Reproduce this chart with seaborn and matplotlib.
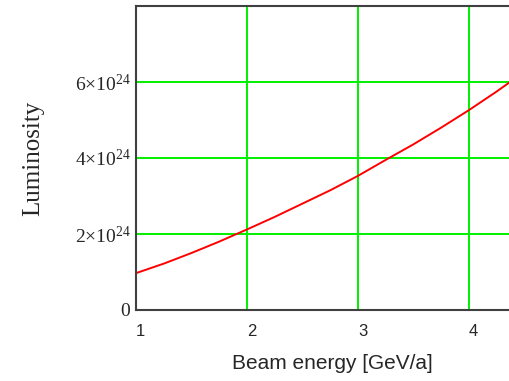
import matplotlib
matplotlib.use("Agg")
import matplotlib.pyplot as plt
import seaborn as sns
import pandas as pd

energy = [1.0, 1.25, 1.5, 1.75, 2.0, 2.25, 2.5, 2.75, 3.0, 3.25, 3.5, 3.75, 4.0, 4.25, 4.37]
lum_e24 = [0.97, 1.22, 1.50, 1.80, 2.12, 2.45, 2.80, 3.15, 3.53, 3.95, 4.36, 4.80, 5.26, 5.75, 6.0]
x_ticks = [1, 2, 3, 4]
y_ticks_e24 = [0, 2, 4, 6]

sns.set_style("white")
plt.rcParams['mathtext.fontset'] = 'custom'
plt.rcParams['mathtext.rm'] = 'Liberation Serif'
plt.rcParams['mathtext.it'] = 'Liberation Serif'

df = pd.DataFrame({"energy": energy, "lum": [v * 1e24 for v in lum_e24]})

fig = plt.figure(figsize=(5.10, 3.81), dpi=100)
ax = fig.add_axes([136/510, 71/381, 1 - 136/510, 304/381])
sns.lineplot(data=df, x="energy", y="lum", ax=ax, color="#ff0000", linewidth=1.4)

ax.set_xlim(1, 4.37)
ax.set_ylim(0, 8e24)
ax.set_xticks(x_ticks)
ax.set_yticks([v * 1e24 for v in y_ticks_e24])
ax.set_xticklabels([str(t) for t in x_ticks], family="Liberation Sans", fontsize=12)
ylabels = ["0"] + [r"%d$\times$10$^{24}$" % v for v in y_ticks_e24[1:]]
ax.set_yticklabels(ylabels, family="Liberation Serif", fontsize=14)
ax.tick_params(axis="x", length=0, pad=10)
ax.tick_params(axis="y", length=0, pad=4)
for lbl in ax.get_xticklabels():
    lbl.set_horizontalalignment("left")

ax.grid(True, color="#00f000", linewidth=1.4)
ax.set_axisbelow(True)
for side in ["left", "bottom", "top"]:
    ax.spines[side].set_color("#404040")
    ax.spines[side].set_linewidth(1.5)
ax.spines["right"].set_visible(False)

ax.set_xlabel("Beam energy [GeV/a]", family="Liberation Sans", fontsize=15)
ax.xaxis.set_label_coords((332 - 136) / (510 - 136), -0.145)
ax.set_ylabel("Luminosity", family="Liberation Serif", fontsize=18, labelpad=22)

fig.savefig("out.png", dpi=100)
